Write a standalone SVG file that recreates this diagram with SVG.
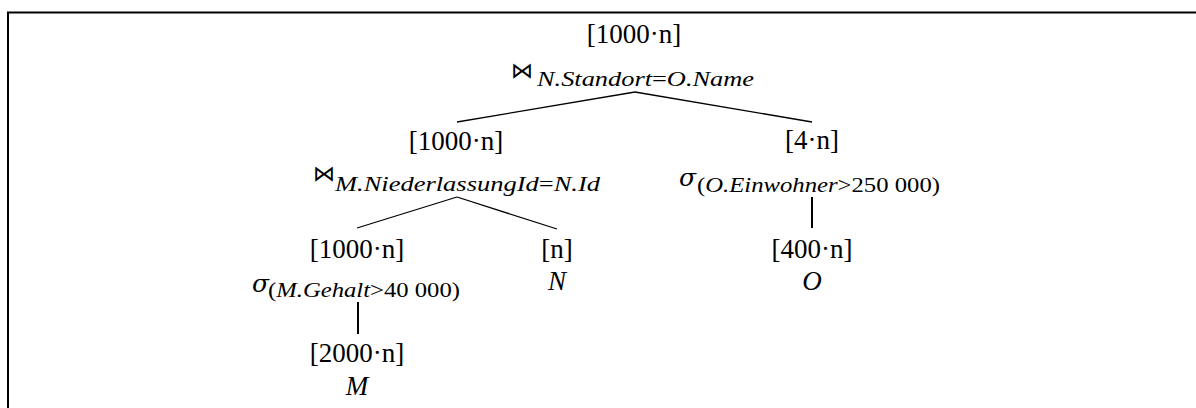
<svg xmlns="http://www.w3.org/2000/svg" width="1196" height="408" viewBox="0 0 1196 408">
  <style>
    .card { font-family: "Liberation Serif", serif; font-size: 27px; fill: #000; text-anchor: middle; }
    .rel { font-family: "Liberation Serif", serif; font-size: 27px; font-style: italic; fill: #000; text-anchor: middle; }
    .op { font-family: "DejaVu Sans", sans-serif; font-size: 22px; fill: #000; }
    .sigma { font-family: "DejaVu Serif", "Liberation Serif", serif; font-size: 25px; font-style: italic; fill: #000; }
    .sub { font-family: "Liberation Serif", serif; font-size: 20px; font-style: italic; fill: #000; }
    .rm { font-style: normal; }
    .edge { stroke: #000; stroke-width: 1.3; fill: none; }
    .stem { stroke: #000; stroke-width: 2; fill: none; }
    .frame { stroke: #000; stroke-width: 2; fill: none; }
  </style>

  <!-- page frame -->
  <path class="frame" d="M8 408 V12.5 H1196"/>

  <!-- root join -->
  <g id="join-standort">
    <text class="card" x="634" y="43">[1000·n]</text>
    <text class="op" x="511" y="78">⋈</text>
    <text class="sub" x="537" y="86" textLength="217" lengthAdjust="spacingAndGlyphs">N.Standort<tspan class="rm">=</tspan>O.Name</text>
  </g>

  <!-- inner join -->
  <g id="join-niederlassung">
    <text class="card" x="456" y="150">[1000·n]</text>
    <text class="op" x="313" y="181">⋈</text>
    <text class="sub" x="335" y="191" textLength="265" lengthAdjust="spacingAndGlyphs">M.NiederlassungId<tspan class="rm">=</tspan>N.Id</text>
  </g>

  <!-- selection on O -->
  <g id="select-einwohner">
    <text class="card" x="812" y="149">[4·n]</text>
    <text class="sigma" x="679" y="186">σ</text>
    <text class="sub" x="697" y="192" textLength="243" lengthAdjust="spacingAndGlyphs"><tspan class="rm">(</tspan>O.Einwohner<tspan class="rm">&gt;250 000)</tspan></text>
  </g>

  <!-- selection on M -->
  <g id="select-gehalt">
    <text class="card" x="357" y="258">[1000·n]</text>
    <text class="sigma" x="252" y="292">σ</text>
    <text class="sub" x="268" y="297" textLength="192" lengthAdjust="spacingAndGlyphs"><tspan class="rm">(</tspan>M.Gehalt<tspan class="rm">&gt;40 000)</tspan></text>
  </g>

  <!-- base relations -->
  <g id="rel-N">
    <text class="card" x="557" y="258">[n]</text>
    <text class="rel" x="557" y="290">N</text>
  </g>
  <g id="rel-O">
    <text class="card" x="812" y="258">[400·n]</text>
    <text class="rel" x="812" y="290">O</text>
  </g>
  <g id="rel-M">
    <text class="card" x="357" y="362">[2000·n]</text>
    <text class="rel" x="357" y="395">M</text>
  </g>

  <!-- connectors -->
  <g id="connectors">
    <line class="edge" x1="635" y1="92" x2="457" y2="122"/>
    <line class="edge" x1="635" y1="92" x2="812" y2="122"/>
    <line class="edge" x1="457" y1="197" x2="357" y2="228"/>
    <line class="edge" x1="457" y1="197" x2="557" y2="229"/>
    <line class="stem" x1="812" y1="197" x2="812" y2="228"/>
    <line class="stem" x1="358" y1="302" x2="358" y2="334"/>
  </g>
</svg>
